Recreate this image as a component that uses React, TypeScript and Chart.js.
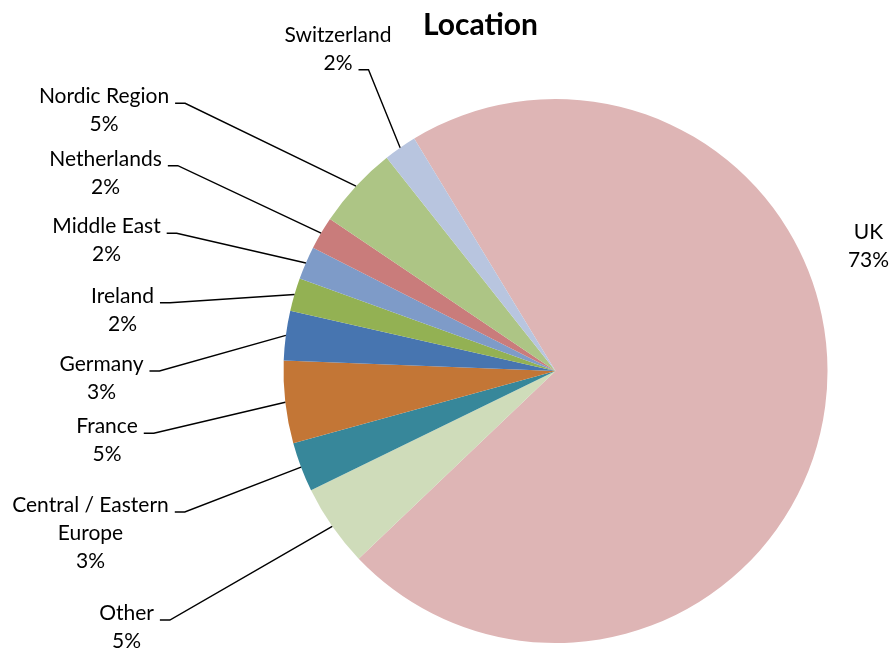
import React, { useEffect, useRef } from "react";
import { Chart, registerables } from "chart.js";

Chart.register(...registerables);

// ---- data ----
const categories = [
  "UK",
  "Other",
  "Central / Eastern Europe",
  "France",
  "Germany",
  "Ireland",
  "Middle East",
  "Netherlands",
  "Nordic Region",
  "Switzerland",
];
const categoryLines = [
  ["UK"],
  ["Other"],
  ["Central / Eastern", "Europe"],
  ["France"],
  ["Germany"],
  ["Ireland"],
  ["Middle East"],
  ["Netherlands"],
  ["Nordic Region"],
  ["Switzerland"],
];
const values = [73, 5, 3, 5, 3, 2, 2, 2, 5, 2];
const valueLabels = ["73%", "5%", "3%", "5%", "3%", "2%", "2%", "2%", "5%", "2%"];
const titleText = "Location";

// ---- styles ----
const colors = [
  "#DEB5B5",
  "#CFDCBA",
  "#37879A",
  "#C37636",
  "#4775B0",
  "#93B153",
  "#7E9BC8",
  "#C97C7B",
  "#ADC585",
  "#B8C5DF",
];

// label layout, offsets from the pie centre (px): block centre x, first baseline y
const labelDx = [313, -429, -465, -448.5, -454, -433, -449, -450, -451.5, -217.5];
const labelDy = [-132.5, 249, 141, 62.3, 0, -68.3, -137.7, -205.3, -267.7, -329.3];
// which text line the leader line attaches to (-1: no leader)
const leaderLine = [-1, 0, 0, 0, 0, 0, 0, 0, 0, 1];
const titleDx = -75;
const titleDy = -336;

const LABEL_FONT = "21px Lato";
const TITLE_FONT = "bold 30px Lato";
const LINE_H = 28;

const labelPlugin = {
  id: "excelLabels",
  afterDatasetsDraw(chart: any) {
    const ctx = chart.ctx as CanvasRenderingContext2D;
    const meta = chart.getDatasetMeta(0);
    let cxPie = 0;
    let cyPie = 0;
    ctx.save();
    meta.data.forEach((arc: any, i: number) => {
      const p = arc.getProps(["x", "y", "startAngle", "endAngle", "outerRadius"], true);
      cxPie = p.x;
      cyPie = p.y;
      const mid = (p.startAngle + p.endAngle) / 2;
      const ax = p.x + Math.cos(mid) * p.outerRadius;
      const ay = p.y + Math.sin(mid) * p.outerRadius;
      const lines = [...categoryLines[i], valueLabels[i]];
      const bx = p.x + labelDx[i];
      const by = p.y + labelDy[i];
      ctx.font = LABEL_FONT;
      ctx.fillStyle = "#000";
      ctx.textAlign = "center";
      ctx.textBaseline = "alphabetic";
      lines.forEach((t, k) => ctx.fillText(t, bx, by + k * LINE_H));
      const k = leaderLine[i];
      if (k >= 0) {
        const w = ctx.measureText(lines[k]).width;
        const hy = by + k * LINE_H;
        const hx0 = bx + w / 2 + 6;
        const hx1 = hx0 + 10;
        ctx.beginPath();
        ctx.strokeStyle = "#000";
        ctx.lineWidth = 1.4;
        ctx.moveTo(hx0, hy);
        ctx.lineTo(hx1, hy);
        ctx.lineTo(ax, ay);
        ctx.stroke();
      }
    });
    ctx.font = TITLE_FONT;
    ctx.fillStyle = "#000";
    ctx.textAlign = "center";
    ctx.textBaseline = "alphabetic";
    ctx.fillText(titleText, cxPie + titleDx, cyPie + titleDy);
    ctx.restore();
  },
};

export default function App() {
  const ref = useRef<HTMLCanvasElement | null>(null);
  useEffect(() => {
    if (!ref.current) return;
    const chart = new Chart(ref.current, {
      type: "pie",
      data: {
        labels: categories,
        datasets: [
          {
            data: values,
            backgroundColor: colors,
            borderWidth: 0,
          },
        ],
      },
      options: {
        animation: false,
        responsive: false,
        events: [],
        rotation: -31.3,
        layout: { padding: { top: 99, bottom: 6, left: 283.5, right: 64.5 } },
        plugins: {
          legend: { display: false },
          tooltip: { enabled: false },
          title: { display: false },
        },
      },
      plugins: [labelPlugin],
    });
    return () => chart.destroy();
  }, []);
  return (
    <div style={{ position: "absolute", left: 0, top: 0, width: 892, height: 649, background: "#fff" }}>
      <canvas ref={ref} width={892} height={649} style={{ display: "block" }} />
    </div>
  );
}
